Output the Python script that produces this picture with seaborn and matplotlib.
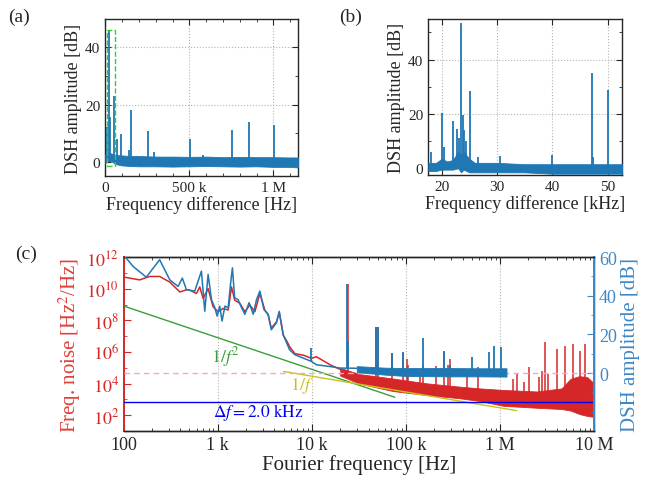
import numpy as np
import matplotlib
matplotlib.use("Agg")
import matplotlib.pyplot as plt
import matplotlib.ticker as mticker
from matplotlib.patches import Rectangle
import seaborn as sns

# ---- data ----
# (a) DSH spectrum, full span
a_floor_freq = [0, 10e3, 30e3, 60e3, 100e3, 150e3, 200e3, 300e3, 400e3, 500e3,
                600e3, 700e3, 800e3, 900e3, 1000e3, 1100e3, 1147e3]
a_floor_upper = [2.5, 3.5, 3.0, 2.4, 2.2, 2.0, 2.0, 1.8, 1.8, 1.7, 1.8, 1.6, 1.7, 1.6, 1.6, 1.5, 1.5]
a_floor_lower = [-0.5, 0.5, 0.5, -0.8, -1.3, -1.5, -1.6, -1.6, -1.7, -1.6, -1.5, -1.6, -1.7, -1.6, -1.8, -1.8, -2.0]
a_peak_freq = [12e3, 22e3, 30e3, 52e3, 71e3, 95e3, 143e3, 152e3, 252e3, 290e3,
               503e3, 583e3, 754e3, 857e3, 1002e3]
a_peak_db = [12, 46, 15.5, 23, 8, 9.7, 4, 18, 10.9, 3.4, 8, 2.4, 11, 14, 13]

# (b) DSH spectrum, zoom (kHz)
b_floor_freq = [17.6, 19, 20, 21, 22, 23, 23.5, 24, 25, 26, 30, 35, 40, 45, 50, 52.7]
b_floor_upper = [2, 2, 3.5, 2.5, 3, 6, 5, 6, 3.5, 2, 2, 1.5, 1.5, 1.5, 1.5, 1.5]
b_floor_lower = [-1, -1, -0.5, -0.5, -0.5, 0, -1.5, -0.5, -1.5, -1.5, -1.5, -1.5, -2, -2, -2, -2]
b_peak_freq = [18.0, 20.0, 20.4, 22.1, 22.8, 23.2, 23.5, 23.8, 24.1, 24.4, 25.1,
               26.5, 30.6, 40.0, 47.2, 47.4, 50.0]
b_peak_db = [6, 20.5, 8, 17.5, 14.5, 11, 53.5, 19.5, 14, 10, 28.5, 4.2, 4.5, 5, 35, 4, 29]

# (c) frequency noise (red, Hz^2/Hz)
red_line_freq = [100, 148, 189, 241, 309, 395, 464, 503, 593, 644, 698, 789, 891, 1007,
                 1137, 1290, 1399, 1510, 1713, 1940, 2190, 2478, 2800, 3160, 3430, 3700,
                 4200, 4500, 4960, 5400, 5850, 6600, 8100, 9900, 11200, 15500, 20000]
red_line_val = [5.4e10, 3.6e10, 5.9e10, 5.9e10, 2.6e10, 6.2e9, 8.5e9, 8.1e9, 5.0e9, 1.3e10,
                2.4e9, 1.0e10, 7.2e8, 3.5e8, 5.6e8, 4.5e8, 1.3e10, 1.9e9, 1.2e9, 3.5e8,
                9.3e8, 3.5e8, 5.0e9, 4.5e8, 2.2e8, 3.2e7, 7.9e7, 3.2e8, 1.15e7, 5.0e6,
                2.0e6, 7.9e5, 6.3e5, 4.0e5, 5.0e5, 1.6e5, 7.9e4]
red_band_freq = [20e3, 32e3, 73e3, 165e3, 370e3, 610e3, 1.08e6, 2.46e6, 4.5e6, 5.6e6, 7e6, 8.5e6, 1e7]
red_band_upper = [1.0e5, 4.0e4, 2.1e4, 1.05e4, 6.5e3, 5.0e3, 4.0e3, 3.2e3, 5.0e3, 2.0e4, 3.0e4, 2.5e4, 1.0e4]
red_band_lower = [3.2e4, 1.0e4, 3.4e3, 1.9e3, 1.2e3, 8.0e2, 4.0e2, 3.0e2, 2.5e2, 2.0e2, 1.2e2, 9.0e1, 8.0e1]
red_spike_freq = [24e3, 48e3, 50e3, 71.5e3, 94e3, 102e3, 105e3, 141e3, 150e3, 210e3,
                  254e3, 280e3, 294e3, 450e3, 588e3, 1.38e6, 1.5e6, 1.78e6, 2.03e6, 2.6e6,
                  2.78e6, 3.03e6, 3.2e6, 4.05e6, 4.9e6, 6.0e6, 7.0e6, 8.0e6]
red_spike_val = [2.0e10, 3.8e7, 3.8e7, 9.0e5, 9.0e5, 3.4e5, 1.5e5, 9e4, 1.5e5, 1.3e5,
                 1.0e6, 1.5e5, 3.4e5, 3e4, 1.2e5, 2e4, 5e4, 1.3e4, 1.2e5, 2.8e4,
                 6.3e4, 4.0e6, 4e4, 1.5e6, 2.5e6, 3.4e6, 1.1e6, 3.0e6]

# (c) DSH amplitude (blue, dB)
blue_line_freq = [100, 126, 174, 241, 309, 378, 420, 464, 524, 569, 617, 670, 727, 789, 857,
                  929, 984, 1048, 1110, 1190, 1290, 1370, 1430, 1510, 1640, 1790, 1940, 2150,
                  2380, 2580, 2800, 3090, 3430, 3700, 4200, 4500, 4960, 5400, 5800, 6600,
                  8100, 9900, 11200, 15500, 20000, 30000]
blue_line_db = [61, 55.1, 49.6, 58.6, 48.2, 44.8, 49.1, 43.1, 42.7, 42.4, 47.5, 52.7, 32.0,
                51.0, 38.0, 33.8, 29.5, 34.6, 26.9, 34.6, 33.8, 46.7, 54.4, 38.9, 38.0, 33.8,
                30.4, 36.4, 30.4, 38.0, 42.4, 32.9, 30.4, 22.4, 26.0, 31.9, 19.8, 15.5, 12.0,
                9.5, 7.75, 6.0, 4.3, 3.4, 2.6, 2.5]
blue_band_freq = [30e3, 60e3, 100e3, 300e3, 600e3, 1.17e6]
blue_band_upper = [3.6, 2.8, 2.6, 2.6, 2.5, 2.5]
blue_band_lower = [0.5, -0.8, -1.5, -1.7, -1.7, -1.8]
blue_spike_freq = [9.9e3, 23.5e3, 24.3e3, 48e3, 50e3, 71.5e3, 94e3, 150e3, 254e3, 294e3,
                   502e3, 764e3, 863e3, 1.02e6]
blue_spike_db = [12.9, 46, 16.4, 23.8, 23.8, 10.3, 10.7, 18.1, 11.2, 4.3, 8.3, 10.9, 14.0, 13.5]

# guide lines
f2_freq = [100, 7.6e4]
f2_val = [8e8, 1.385e3]
f1_freq = [5e3, 1.5e6]
f1_val = [5.9e4, 197]
delta_f_level = 6.5e2

# ---- style ----
sns.set_style("ticks")
plt.rcParams['font.family'] = ['Liberation Serif', 'DejaVu Serif']
plt.rcParams['mathtext.fontset'] = 'stix'
plt.rcParams['xtick.direction'] = 'in'
plt.rcParams['ytick.direction'] = 'in'
plt.rcParams['axes.linewidth'] = 1.0

BLUE = '#1f77b4'
RED = '#d62728'
RBLUE = '#3f88c5'
GRID = dict(color='#b5b5b5', linestyle=':', linewidth=0.8)

fig = plt.figure(figsize=(6.58, 4.85), dpi=100)
ax_a = fig.add_axes([0.160, 0.635, 0.293, 0.324])
ax_b = fig.add_axes([0.651, 0.637, 0.295, 0.322])
ax_c = fig.add_axes([0.188, 0.109, 0.715, 0.359])


def spectrum(ax, ff, lo, hi, pf, pdb):
    ax.fill_between(ff, lo, hi, color=BLUE, lw=0.6, zorder=3)
    ax.vlines(pf, 0, pdb, color=BLUE, lw=1.3, zorder=3)
    ax.grid(True, which='major', **GRID)
    ax.tick_params(which='both', top=True, right=True, labelsize=11)
    ax.tick_params(which='major', length=4.5)
    ax.tick_params(which='minor', length=2.5)
    ax.set_ylabel('DSH amplitude [dB]', fontsize=13, labelpad=2)


# (a)
spectrum(ax_a, a_floor_freq, a_floor_lower, a_floor_upper, a_peak_freq, a_peak_db)
ax_a.add_patch(Rectangle((10e3, -1.5), 47e3, 47.5, fill=False, ec='#33cc33',
                         ls='--', lw=1.0, zorder=4))
ax_a.set_xlim(0, 1.147e6)
ax_a.set_ylim(-5, 50)
ax_a.xaxis.set_major_locator(mticker.FixedLocator([0, 5e5, 1e6]))
ax_a.xaxis.set_major_formatter(mticker.FixedFormatter(['0', '500 k', '1 M']))
ax_a.xaxis.set_minor_locator(mticker.MultipleLocator(1e5))
ax_a.yaxis.set_major_locator(mticker.FixedLocator([0, 20, 40]))
ax_a.yaxis.set_minor_locator(mticker.MultipleLocator(10))
ax_a.set_xlabel('Frequency difference [Hz]', fontsize=13, labelpad=1)

# (b)
spectrum(ax_b, b_floor_freq, b_floor_lower, b_floor_upper, b_peak_freq, b_peak_db)
ax_b.set_xlim(17.6, 52.7)
ax_b.set_ylim(-2.5, 55)
ax_b.xaxis.set_major_locator(mticker.FixedLocator([20, 30, 40, 50]))
ax_b.yaxis.set_major_locator(mticker.FixedLocator([0, 20, 40]))
ax_b.yaxis.set_minor_locator(mticker.MultipleLocator(10))
ax_b.set_xlabel('Frequency difference [kHz]', fontsize=13, labelpad=1)

# (c) red: frequency noise
ax_c.set_xscale('log')
ax_c.set_yscale('log')
sns.lineplot(x=red_line_freq, y=red_line_val, ax=ax_c, color=RED, lw=1.1,
             estimator=None, sort=False, legend=False, zorder=2)
ax_c.fill_between(red_band_freq, red_band_lower, red_band_upper, color=RED, lw=0.6, zorder=2)
spike_base = 10 ** np.interp(np.log10(red_spike_freq), np.log10(red_band_freq),
                             np.log10(red_band_lower) * 0.5 + np.log10(red_band_upper) * 0.5)
ax_c.vlines(red_spike_freq, spike_base, red_spike_val, color=RED, lw=1.1, zorder=2)
sns.lineplot(x=f2_freq, y=f2_val, ax=ax_c, color='#3a9e3a', lw=1.0, zorder=5)
sns.lineplot(x=f1_freq, y=f1_val, ax=ax_c, color='#c8c21e', lw=1.0, zorder=5)
ax_c.axhline(delta_f_level, color='#0000ee', lw=1.0, zorder=5)
ax_c.text(1.2e3, 5.2e5, '$1/f^2$', color='#3a9e3a', fontsize=13, ha='center', va='center')
ax_c.text(7.8e3, 8.2e3, '$1/f$', color='#c8c21e', fontsize=13, ha='center', va='center')
ax_c.text(2.67e3, 1.8e2, r'$\Delta f = 2.0\ \mathrm{kHz}$', color='#0000ee', fontsize=12.5,
          ha='center', va='center')

# (c) blue: DSH amplitude on twin axis
ax_d = ax_c.twinx()
ax_d.axhline(0, color='#f5a3e0', ls=(0, (4, 3)), lw=1.0, zorder=1)
sns.lineplot(x=blue_line_freq, y=blue_line_db, ax=ax_d, color=BLUE, lw=1.1,
             estimator=None, sort=False, legend=False, zorder=3)
ax_d.fill_between(blue_band_freq, blue_band_lower, blue_band_upper, color=BLUE, lw=0.6, zorder=3)
blue_base = np.where(np.array(blue_spike_freq) < 3e4,
                     np.interp(blue_spike_freq, blue_line_freq, blue_line_db), 0)
ax_d.vlines(blue_spike_freq, blue_base, blue_spike_db, color=BLUE, lw=1.3, zorder=3)
ax_d.set_ylim(-30, 60)
ax_d.yaxis.set_major_locator(mticker.FixedLocator([0, 20, 40, 60]))
ax_d.yaxis.set_minor_locator(mticker.MultipleLocator(10))
ax_d.tick_params(axis='y', which='both', colors=RBLUE, labelsize=13)
ax_d.tick_params(which='major', length=5)
ax_d.tick_params(which='minor', length=2.5)
ax_d.spines['right'].set_color(RBLUE)
ax_d.spines['right'].set_linewidth(1.4)
ax_d.spines['left'].set_visible(False)
ax_d.set_ylabel('DSH amplitude [dB]', fontsize=15, color=RBLUE, labelpad=3)

# (c) axes formatting (after twin so shared x keeps these)
ax_c.set_xlim(100, 1e7)
ax_c.set_ylim(10, 1e12)
x_labels = {100: '100', 1e3: '1 k', 1e4: '10 k', 1e5: '100 k', 1e6: '1 M', 1e7: '10 M'}
ax_c.xaxis.set_major_locator(mticker.FixedLocator(list(x_labels.keys())))
ax_c.xaxis.set_major_formatter(mticker.FixedFormatter(list(x_labels.values())))
ax_c.xaxis.set_minor_locator(mticker.LogLocator(base=10, subs=np.arange(2, 10), numticks=20))
ax_c.xaxis.set_minor_formatter(mticker.NullFormatter())
y_exps = [2, 4, 6, 8, 10, 12]
ax_c.yaxis.set_major_locator(mticker.FixedLocator([10.0 ** e for e in y_exps]))
ax_c.yaxis.set_major_formatter(mticker.FixedFormatter(['$10^{%d}$' % e for e in y_exps]))
ax_c.yaxis.set_minor_locator(mticker.FixedLocator([10.0 ** e for e in [1, 3, 5, 7, 9, 11]]))
ax_c.yaxis.set_minor_formatter(mticker.NullFormatter())
ax_c.grid(True, axis='x', which='major', **GRID)
ax_c.tick_params(axis='x', which='both', top=True, labelsize=13)
ax_c.tick_params(axis='y', which='both', colors=RED, labelsize=13)
ax_c.tick_params(which='major', length=5)
ax_c.tick_params(which='minor', length=2.5)
ax_c.spines['left'].set_color(RED)
ax_c.spines['left'].set_linewidth(1.4)
ax_c.set_xlabel('Fourier frequency [Hz]', fontsize=15, labelpad=1)
ax_c.set_ylabel('Freq. noise [Hz$^2$/Hz]', fontsize=15, color='#e0403a', labelpad=2)

# panel labels
fig.text(0.012, 0.965, '(a)', fontsize=14, va='center')
fig.text(0.515, 0.965, '(b)', fontsize=14, va='center')
fig.text(0.023, 0.475, '(c)', fontsize=14, va='center')

fig.savefig('out.png', dpi=100)
